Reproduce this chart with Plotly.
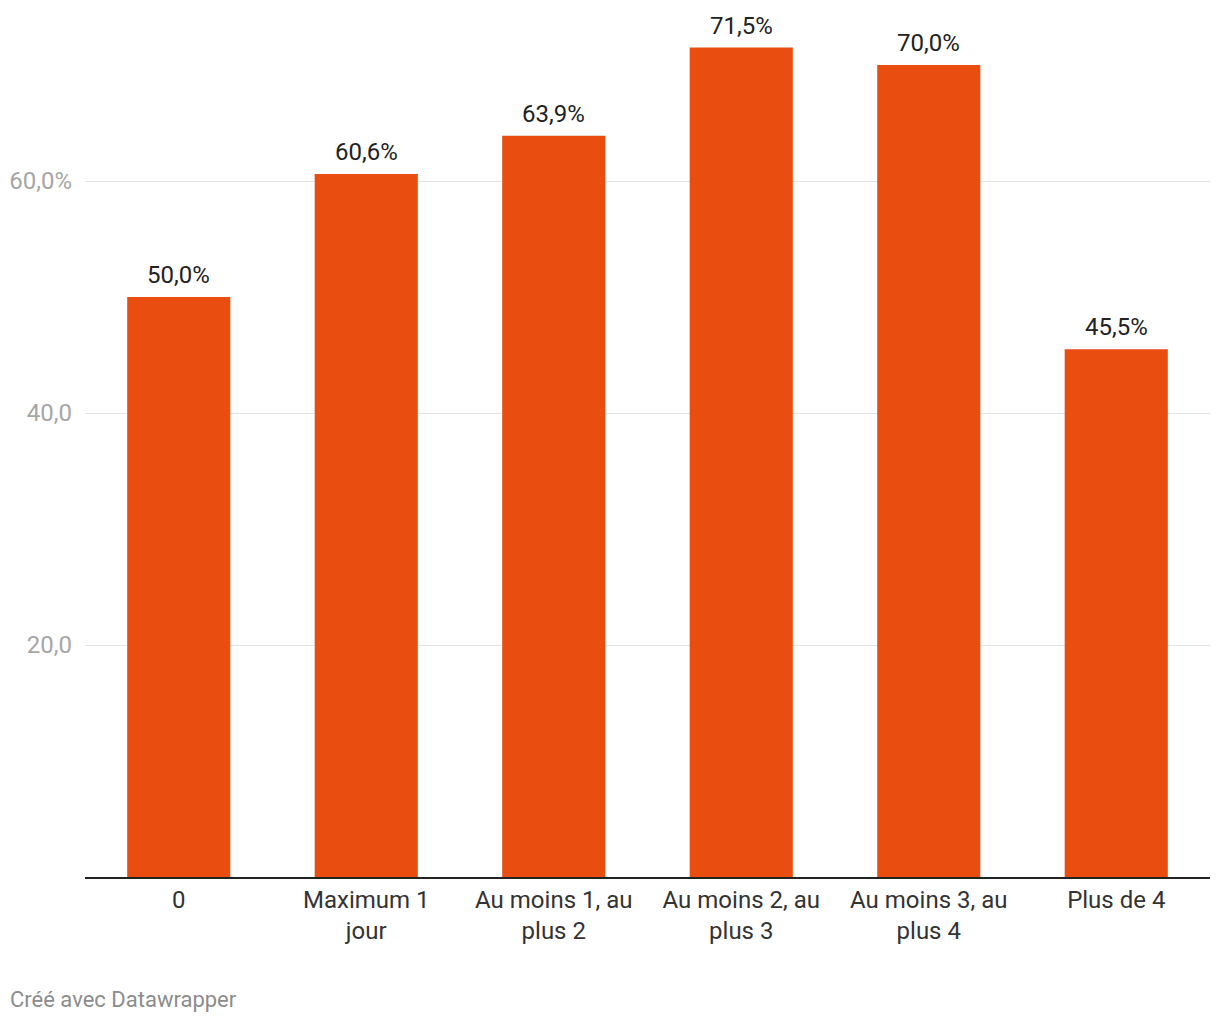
import plotly.graph_objects as go

categories = ["0", "Maximum 1<br>jour", "Au moins 1, au<br>plus 2", "Au moins 2, au<br>plus 3",
              "Au moins 3, au<br>plus 4", "Plus de 4"]
values = [50.0, 60.6, 63.9, 71.5, 70.0, 45.5]
tick_vals = [20, 40, 60]
tick_text = ["20,0", "40,0", "60,0%"]
bar_color = "#e94e10"

fig = go.Figure()
fig.add_trace(go.Bar(
    x=categories, y=values, marker=dict(color=bar_color, line=dict(width=0)),
    width=0.55, hoverinfo="skip",
))

for c, v in zip(categories, values):
    fig.add_annotation(
        x=c, y=v, text=f"{v:.1f}".replace(".", ",") + "%", showarrow=False,
        yanchor="bottom", yshift=6, font=dict(family="Roboto", size=24, color="#222222"),
    )

fig.add_annotation(
    x=-77/1125, y=-137/857, xref="paper", yref="paper", xanchor="left", yanchor="bottom",
    text="Créé avec Datawrapper", showarrow=False,
    font=dict(family="Roboto", size=22, color="#8c8c8c"),
)

fig.update_layout(
    width=1220, height=1020,
    margin=dict(l=85, r=10, t=20, b=143),
    plot_bgcolor="white", paper_bgcolor="white",
    font=dict(family="Roboto", size=24, color="#333333"),
    showlegend=False,
    xaxis=dict(
        showline=True, linecolor="#222222", linewidth=2, ticks="", showgrid=False,
        tickfont=dict(family="Roboto", size=24, color="#333333"),
        fixedrange=True,
    ),
    yaxis=dict(
        range=[0, 857 / 11.6], tickvals=tick_vals, ticktext=tick_text,
        showgrid=True, gridcolor="#e3e3e3", gridwidth=1, zeroline=False,
        ticks="", ticklabelstandoff=12,
        tickfont=dict(family="Roboto", size=24, color="#a6a6a6"),
        showline=False,
    ),
)

fig.write_html("out.html")
